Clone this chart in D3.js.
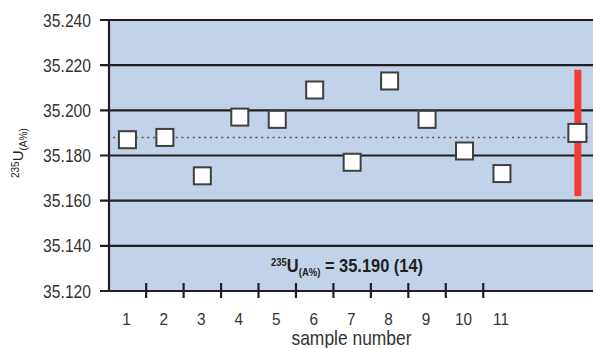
<!DOCTYPE html>
<html>
<head>
<meta charset="utf-8">
<script src="https://cdn.jsdelivr.net/npm/d3@7"></script>
<style>
  html, body { margin: 0; padding: 0; background: #fff; }
  text { font-family: "Liberation Sans", Arial, sans-serif; }
</style>
</head>
<body>
<svg id="chart" width="593" height="348"></svg>
<script>
// sample numbers and measured 235U atom %
const samples = [1, 2, 3, 4, 5, 6, 7, 8, 9, 10, 11];
const values = [35.187, 35.188, 35.171, 35.197, 35.196, 35.209, 35.177, 35.213, 35.196, 35.182, 35.172];
const yTicks = [35.120, 35.140, 35.160, 35.180, 35.200, 35.220, 35.240];
const meanPos = [13];
const meanValue = [35.190];
const meanUnc = [0.028];
const refLine = [35.188];

const svg = d3.select('#chart');
const plotL = 109, plotR = 593, plotT = 20, plotB = 291;

const x = d3.scaleLinear().domain([0.5, 13.5]).range([108.7, 595.6]);
const y = d3.scaleLinear().domain([35.120, 35.240]).range([plotB, plotT]);

// no narrow face installed, so squeeze the regular one
const squeeze = (tx, ty, sx) => `translate(${tx},${ty}) scale(${sx},1)`;

// plot background
svg.append('rect')
  .attr('x', plotL).attr('y', plotT)
  .attr('width', plotR - plotL).attr('height', plotB - plotT)
  .attr('fill', '#c2d3e9');

// grid lines + y ticks
svg.append('g')
  .selectAll('line')
  .data(yTicks)
  .join('line')
  .attr('x1', 100).attr('x2', plotR)
  .attr('y1', d => y(d)).attr('y2', d => y(d))
  .attr('stroke', '#231f20')
  .attr('stroke-width', 2.2);

svg.append('g')
  .selectAll('text')
  .data(yTicks)
  .join('text')
  .attr('transform', d => squeeze(91, y(d) + 6.5, 0.87))
  .attr('text-anchor', 'end')
  .attr('fill', '#333')
  .style('font-size', '18px')
  .text(d => d3.format('.3f')(d));

// y axis line
svg.append('line')
  .attr('x1', plotL).attr('x2', plotL)
  .attr('y1', plotT).attr('y2', plotB + 1)
  .attr('stroke', '#231f20')
  .attr('stroke-width', 2.2);

// x ticks between samples
const xTickPos = samples.slice(0, -1).map(d => d + 0.5);
svg.append('g')
  .selectAll('line')
  .data(xTickPos)
  .join('line')
  .attr('x1', d => x(d)).attr('x2', d => x(d))
  .attr('y1', 283).attr('y2', 298)
  .attr('stroke', '#231f20')
  .attr('stroke-width', 2.2);

svg.append('g')
  .selectAll('text')
  .data(samples)
  .join('text')
  .attr('transform', d => squeeze(x(d) - 1, 324.5, 0.9))
  .attr('text-anchor', 'middle')
  .attr('fill', '#333')
  .style('font-size', '17px')
  .text(d => d);

svg.append('text')
  .attr('transform', squeeze(351.5, 345, 0.85))
  .attr('text-anchor', 'middle')
  .attr('fill', '#333')
  .style('font-size', '20.5px')
  .text('sample number');

// y label
const yLab = svg.append('text')
  .attr('transform', 'translate(23,178) rotate(-90)')
  .attr('fill', '#231f20')
  .style('font-size', '15px');
yLab.append('tspan').attr('dy', -4.5).style('font-size', '10px').text('235');
yLab.append('tspan').attr('dy', 4.5).text('U');
yLab.append('tspan').attr('dy', 4).style('font-size', '10px').text('(A%)');

// dotted reference line
svg.append('line')
  .attr('x1', 113).attr('x2', 590)
  .attr('y1', y(refLine[0])).attr('y2', y(refLine[0]))
  .attr('stroke', '#555')
  .attr('stroke-width', 1.5)
  .attr('stroke-dasharray', '2,3.7');

// mean uncertainty bar
svg.append('g')
  .selectAll('rect')
  .data(meanPos)
  .join('rect')
  .attr('x', d => x(d) - 2.5)
  .attr('width', 7)
  .attr('y', (d, i) => y(meanValue[i] + meanUnc[i]))
  .attr('height', (d, i) => y(meanValue[i] - meanUnc[i]) - y(meanValue[i] + meanUnc[i]))
  .attr('fill', '#ef3d32');

// sample markers
svg.append('g')
  .selectAll('rect')
  .data(samples)
  .join('rect')
  .attr('x', d => x(d) - 8.5)
  .attr('y', (d, i) => y(values[i]) - 8.5)
  .attr('width', 17).attr('height', 17)
  .attr('fill', '#fff')
  .attr('stroke', '#3f3f3f')
  .attr('stroke-width', 2);

svg.append('g')
  .selectAll('rect')
  .data(meanPos)
  .join('rect')
  .attr('x', d => x(d) - 8.5)
  .attr('y', (d, i) => y(meanValue[i]) - 9)
  .attr('width', 18).attr('height', 18)
  .attr('fill', '#fff')
  .attr('stroke', '#3f3f3f')
  .attr('stroke-width', 2);

// result annotation
const ann = svg.append('text')
  .attr('transform', squeeze(271, 272, 0.865))
  .attr('fill', '#231f20')
  .style('font-size', '19px')
  .style('font-weight', 'bold');
ann.append('tspan').attr('dy', -6.5).style('font-size', '11px').text('235');
ann.append('tspan').attr('dy', 6.5).text('U');
ann.append('tspan').attr('dy', 4).style('font-size', '11px').text('(A%)');
ann.append('tspan').attr('dy', -4).text(' = ' + d3.format('.3f')(meanValue[0]) + ' (14)');
</script>
</body>
</html>
